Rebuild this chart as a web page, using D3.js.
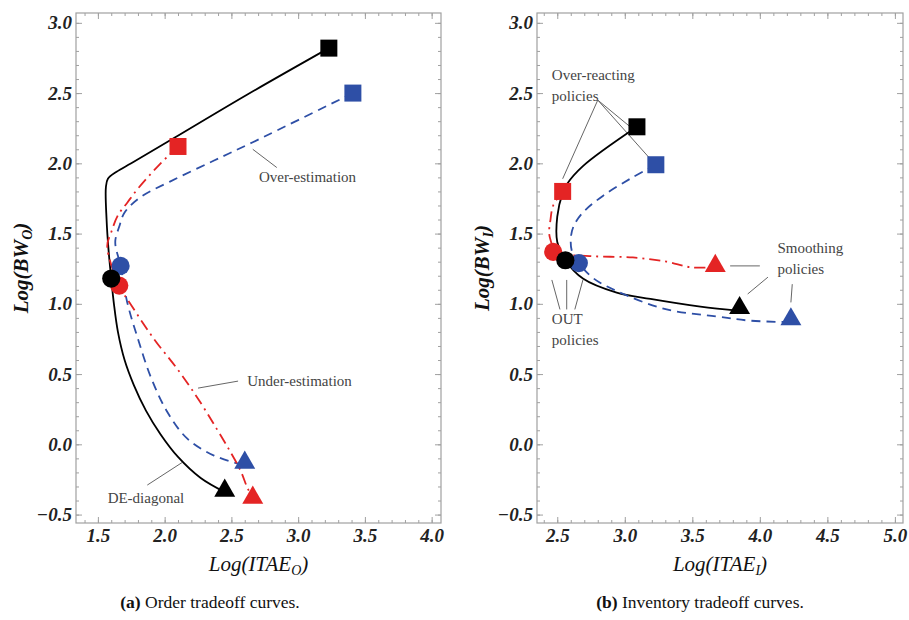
<!DOCTYPE html>
<html>
<head>
<meta charset="utf-8">
<script src="https://cdn.jsdelivr.net/npm/d3@7"></script>
<style>
  body { margin: 0; background: #fff; }
</style>
</head>
<body>
<script>
const serif = "font-family: 'Liberation Serif', 'DejaVu Serif', serif";

// ---- ticks ----
const yTicks = [-0.5, 0.0, 0.5, 1.0, 1.5, 2.0, 2.5, 3.0];
const xTicksA = [1.5, 2.0, 2.5, 3.0, 3.5, 4.0];
const xTicksB = [2.5, 3.0, 3.5, 4.0, 4.5, 5.0];

// ---- (a) order tradeoff curves; each runs square -> circle -> triangle ----
const orderDE = [[3.23, 2.82], [2.62, 2.49], [2.07, 2.18], [1.75, 2.0], [1.64, 1.94], [1.575, 1.89],
  [1.56, 1.83], [1.565, 1.6], [1.58, 1.38], [1.60, 1.18], [1.62, 1.0], [1.65, 0.8], [1.70, 0.6],
  [1.77, 0.42], [1.86, 0.24], [1.97, 0.07], [2.10, -0.09], [2.27, -0.24], [2.45, -0.34]];
const orderOver = [[3.41, 2.50], [2.66, 2.15], [2.37, 2.02], [2.04, 1.87], [1.82, 1.76], [1.70, 1.65],
  [1.66, 1.55], [1.63, 1.44], [1.67, 1.27], [1.72, 1.01], [1.80, 0.75], [1.90, 0.47], [2.02, 0.23],
  [2.17, 0.04], [2.37, -0.08], [2.60, -0.15]];
const orderUnder = [[2.10, 2.12], [1.97, 2.0], [1.80, 1.82], [1.72, 1.72], [1.65, 1.63], [1.60, 1.51],
  [1.57, 1.41], [1.66, 1.13], [1.75, 0.99], [1.92, 0.75], [2.10, 0.53], [2.26, 0.31], [2.39, 0.11],
  [2.49, -0.05], [2.57, -0.19], [2.62, -0.31], [2.66, -0.38]];
// markers in order DE, over, under
const orderSquares = [[3.23, 2.82], [3.41, 2.50], [2.10, 2.12]];
const orderCircles = [[1.60, 1.18], [1.67, 1.27], [1.66, 1.13]];
const orderTriangles = [[2.45, -0.33], [2.60, -0.13], [2.66, -0.38]];

// ---- (b) inventory tradeoff curves ----
const invDE = [[3.09, 2.26], [2.69, 1.98], [2.57, 1.85], [2.54, 1.79], [2.50, 1.62], [2.50, 1.44],
  [2.56, 1.31], [2.69, 1.18], [2.94, 1.08], [3.19, 1.035], [3.56, 0.98], [3.85, 0.95]];
const invOver = [[3.23, 1.99], [3.04, 1.89], [2.84, 1.77], [2.69, 1.65], [2.62, 1.55], [2.60, 1.46],
  [2.61, 1.37], [2.66, 1.29], [2.77, 1.18], [2.99, 1.07], [3.31, 0.96], [3.68, 0.91], [3.93, 0.88], [4.22, 0.87]];
const invUnder = [[2.54, 1.80], [2.47, 1.70], [2.45, 1.60], [2.44, 1.50], [2.46, 1.42], [2.47, 1.37],
  [2.74, 1.34], [3.06, 1.33], [3.31, 1.30], [3.49, 1.26], [3.67, 1.26]];
const invSquares = [[3.09, 2.26], [3.23, 1.99], [2.54, 1.80]];
const invCircles = [[2.56, 1.31], [2.66, 1.29], [2.47, 1.37]];
const invTriangles = [[3.85, 0.97], [4.23, 0.89], [3.67, 1.27]];

const seriesKeys = ["de", "over", "under"];
const style = {
  de: { color: "#000000", dash: null },
  over: { color: "#2e4fa6", dash: "9,6" },
  under: { color: "#e42424", dash: "11,5,2,5" }
};

// annotations (data coords)
const notesA = [
  { lines: ["Over-estimation"], at: [3.07, 1.90], anchor: "middle", leaders: [[[2.66, 2.10], [2.84, 1.97]]] },
  { lines: ["Under-estimation"], at: [3.01, 0.45], anchor: "middle", leaders: [[[2.25, 0.40], [2.55, 0.45]]] },
  { lines: ["DE-diagonal"], at: [1.86, -0.38], anchor: "middle", leaders: [[[1.87, -0.29], [2.13, -0.13]]] }
];
const notesB = [
  { lines: ["Over-reacting", "policies"], at: [2.46, 2.63], anchor: "start",
    leaders: [[[2.80, 2.45], [2.54, 1.89]], [[2.80, 2.45], [3.04, 2.26]], [[2.80, 2.45], [3.19, 2.03]]] },
  { lines: ["Smoothing", "policies"], at: [4.13, 1.40], anchor: "start",
    leaders: [[[3.78, 1.27], [4.0, 1.27]], [[3.91, 1.07], [4.06, 1.19]], [[4.23, 1.01], [4.24, 1.14]]] },
  { lines: ["OUT", "policies"], at: [2.46, 0.89], anchor: "start",
    leaders: [[[2.52, 0.96], [2.46, 1.17]], [[2.57, 0.96], [2.57, 1.17]], [[2.63, 0.96], [2.69, 1.17]]] }
];

const width = 909, height = 620;
const frameTop = 13, frameBottom = 523;

const svg = d3.select("body").append("svg")
  .attr("width", width).attr("height", height);

const panels = [
  { left: 76, right: 441, xDomain: [1.336, 4.07], xTicks: xTicksA, sub: "O",
    curves: [orderDE, orderOver, orderUnder], squares: orderSquares, circles: orderCircles,
    triangles: orderTriangles, notes: notesA, tag: "(a)", caption: " Order tradeoff curves.", yTitleX: 21, capX: 210 },
  { left: 537, right: 903, xDomain: [2.35, 5.06], xTicks: xTicksB, sub: "I",
    curves: [invDE, invOver, invUnder], squares: invSquares, circles: invCircles,
    triangles: invTriangles, notes: notesB, tag: "(b)", caption: " Inventory tradeoff curves.", yTitleX: 482, capX: 700 }
];

const line = d3.line().curve(d3.curveCatmullRom.alpha(0.5));

panels.forEach(p => {
  const x = d3.scaleLinear().domain(p.xDomain).range([p.left, p.right]);
  const y = d3.scaleLinear().domain([-0.56, 3.07]).range([frameBottom, frameTop]);
  const g = svg.append("g");

  const minorX = d3.range(Math.ceil(p.xDomain[0] * 10), Math.floor(p.xDomain[1] * 10) + 1).map(d => d / 10);
  const minorY = d3.range(-5, 31).map(d => d / 10);

  // [axis, transform, minor ticks, major ticks, label padding or null]
  const axes = [
    [d3.axisBottom(x), `translate(0,${frameBottom})`, minorX, p.xTicks, 6],
    [d3.axisTop(x), `translate(0,${frameTop})`, minorX, p.xTicks, null],
    [d3.axisLeft(y), `translate(${p.left},0)`, minorY, yTicks, 4],
    [d3.axisRight(y), `translate(${p.right},0)`, minorY, yTicks, null]
  ];
  axes.forEach(([ax, tr, minor, major, pad]) => {
    g.append("g").attr("transform", tr)
      .call(ax.tickValues(minor).tickSizeInner(-3).tickSizeOuter(0).tickFormat(""))
      .call(s => s.select(".domain").remove())
      .selectAll("line").attr("stroke", "#a0a0a0");
    const mg = g.append("g").attr("transform", tr)
      .call(ax.tickValues(major).tickSizeInner(-6).tickPadding(pad || 0)
        .tickFormat(pad ? (d => d3.format(".1f")(d).replace("-", "\u2212")) : ""))
      .call(s => s.select(".domain").remove());
    mg.selectAll("line").attr("stroke", "#a0a0a0");
    mg.selectAll("text")
      .attr("style", serif)
      .attr("font-style", "italic")
      .attr("font-weight", "bold")
      .attr("font-size", 19)
      .attr("fill", "#222");
  });

  g.append("rect")
    .attr("x", p.left).attr("y", frameTop)
    .attr("width", p.right - p.left).attr("height", frameBottom - frameTop)
    .attr("fill", "none").attr("stroke", "#a0a0a0").attr("stroke-width", 1.2);

  // annotations
  p.notes.forEach(n => {
    n.leaders.forEach(l => {
      g.append("line")
        .attr("x1", x(l[0][0])).attr("y1", y(l[0][1]))
        .attr("x2", x(l[1][0])).attr("y2", y(l[1][1]))
        .attr("stroke", "#666").attr("stroke-width", 1);
    });
    const t = g.append("text")
      .attr("style", serif)
      .attr("x", x(n.at[0])).attr("y", y(n.at[1]) + 5)
      .attr("text-anchor", n.anchor)
      .attr("font-size", 15).attr("fill", "#444");
    n.lines.forEach((s, i) => {
      t.append("tspan").attr("x", x(n.at[0])).attr("dy", i ? 21 : 0).text(s);
    });
  });

  // curves
  p.curves.forEach((c, i) => {
    const st = style[seriesKeys[i]];
    g.append("path")
      .attr("d", line(c.map(d => [x(d[0]), y(d[1])])))
      .attr("fill", "none")
      .attr("stroke", st.color)
      .attr("stroke-width", 1.8)
      .attr("stroke-dasharray", st.dash);
  });

  // markers, drawn blue, red, black so black sits on top
  const order = [1, 2, 0];
  const drawMarkers = (pts, type, size) => {
    order.forEach(i => {
      g.append("path")
        .attr("d", d3.symbol(type, size)())
        .attr("transform", `translate(${x(pts[i][0])},${y(pts[i][1])})`)
        .attr("fill", style[seriesKeys[i]].color);
    });
  };
  drawMarkers(p.squares, d3.symbolSquare, 289);
  drawMarkers(p.triangles, d3.symbolTriangle, 190);
  drawMarkers(p.circles, d3.symbolCircle, 260);

  // axis titles
  const cx = (p.left + p.right) / 2;
  const xt = svg.append("text")
    .attr("style", serif)
    .attr("x", cx).attr("y", 571)
    .attr("text-anchor", "middle")
    .attr("font-size", 21).attr("font-style", "italic").attr("fill", "#111");
  xt.append("tspan").text("Log(ITAE");
  xt.append("tspan").attr("font-size", 14).attr("dy", 4).text(p.sub);
  xt.append("tspan").attr("dy", -4).text(")");

  const yt = svg.append("text")
    .attr("style", serif)
    .attr("transform", `translate(${p.yTitleX},${(frameTop + frameBottom) / 2}) rotate(-90)`)
    .attr("text-anchor", "middle").attr("dy", "0.35em")
    .attr("font-size", 21).attr("font-style", "italic").attr("font-weight", "bold").attr("fill", "#111");
  yt.append("tspan").text("Log(BW");
  yt.append("tspan").attr("font-size", 14).attr("dy", 4).text(p.sub);
  yt.append("tspan").attr("dy", -4).text(")");

  // caption
  const cap = svg.append("text")
    .attr("style", serif)
    .attr("x", p.capX).attr("y", 608)
    .attr("text-anchor", "middle")
    .attr("font-size", 17.5).attr("fill", "#111");
  cap.append("tspan").attr("font-weight", "bold").text(p.tag);
  cap.append("tspan").text(p.caption);
});
</script>
</body>
</html>
